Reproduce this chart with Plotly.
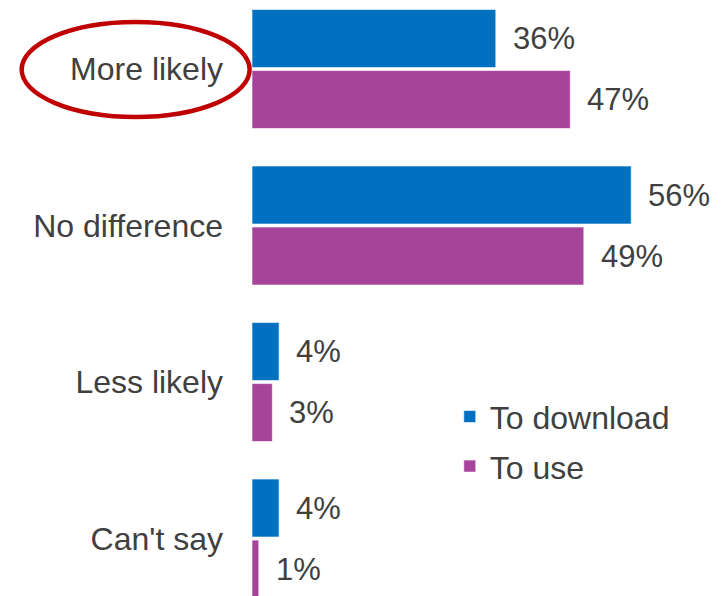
import plotly.graph_objects as go

# Survey responses: effect on likelihood to download / use
categories = ["More likely", "No difference", "Less likely", "Can't say"]
to_download = [36, 56, 4, 4]
to_use = [47, 49, 3, 1]
series_names = ["To download", "To use"]

BLUE = "#0070C0"
PURPLE = "#A5449A"
TEXT = "#404040"
FONT = "Liberation Sans, Arial, sans-serif"
FS = 31
FS_LABEL = 32

fig = go.Figure()
for name, vals, col in [(series_names[0], to_download, BLUE),
                        (series_names[1], to_use, PURPLE)]:
    fig.add_trace(go.Bar(
        y=categories, x=vals, orientation="h", name=name,
        legendgroup=name,
        marker=dict(color=col, line=dict(color="rgba(255,255,255,0.6)", width=1)),
    ))

# value labels to the right of each bar
for vals, shift in [(to_download, 30.5), (to_use, -30.5)]:
    for cat, v in zip(categories, vals):
        fig.add_annotation(
            x=v, y=cat, text=f"{v}%", showarrow=False,
            xanchor="left", yanchor="middle", xshift=15, yshift=shift,
            font=dict(family=FONT, size=FS, color=TEXT),
        )

# highlight ring around the first category label
fig.add_shape(
    type="circle", xref="paper", yref="paper",
    x0=-0.488, x1=-0.005, y0=1 - 117 / 596, y1=1 - 22 / 596,
    line=dict(color="#C00000", width=4.5), layer="above",
)

fig.update_layout(
    width=724, height=596,
    margin=dict(l=252, r=0, t=0, b=0),
    paper_bgcolor="white", plot_bgcolor="white",
    barmode="group", bargap=0.22, bargroupgap=0.05,
    font=dict(family=FONT, size=FS, color=TEXT),
    showlegend=True,
    legend=dict(
        x=0.419, y=0.347, xanchor="left", yanchor="top",
        traceorder="grouped", tracegroupgap=5,
        font=dict(family=FONT, size=FS_LABEL, color=TEXT),
        bgcolor="rgba(0,0,0,0)", itemwidth=30,
    ),
    xaxis=dict(range=[0, 69.7], visible=False, fixedrange=True),
    yaxis=dict(
        type="category", range=[3.367, -0.441],
        showgrid=False, zeroline=False, showline=False,
        ticks="", ticklabelstandoff=28,
        tickfont=dict(family=FONT, size=FS_LABEL, color=TEXT),
    ),
)

fig.write_html("out.html")
